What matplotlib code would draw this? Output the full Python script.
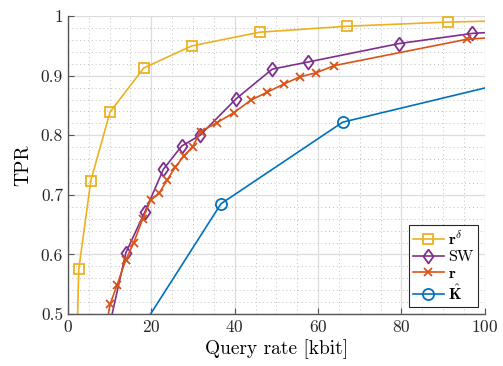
import matplotlib.pyplot as plt
from matplotlib.ticker import MultipleLocator

plt.rcParams['font.family'] = 'cmr10'
plt.rcParams['mathtext.fontset'] = 'cm'
plt.rcParams['axes.formatter.use_mathtext'] = True

# Data (points outside the axes keep the line ends right)
rd_x = [1.8, 2.6, 5.5, 10.1, 18.2, 29.7, 46.0, 66.9, 91.1, 110.0]
rd_y = [0.35, 0.575, 0.724, 0.839, 0.913, 0.950, 0.973, 0.983, 0.990, 0.993]

sw_x = [9.0, 13.9, 18.5, 22.9, 27.3, 31.7, 40.3, 49.0, 57.6, 79.5, 97.0, 110.0]
sw_y = [0.45, 0.603, 0.672, 0.743, 0.782, 0.800, 0.861, 0.911, 0.923, 0.954, 0.971, 0.976]

r_x = [9.0, 10.1, 11.8, 13.9, 15.8, 17.9, 19.9, 21.9, 23.8, 25.8, 27.8, 29.9, 31.8,
       35.7, 39.8, 43.9, 47.7, 51.8, 55.6, 59.6, 63.9, 95.6, 110.0]
r_y = [0.47, 0.516, 0.549, 0.591, 0.620, 0.659, 0.692, 0.703, 0.725, 0.747, 0.765, 0.781, 0.806,
       0.821, 0.838, 0.859, 0.872, 0.886, 0.898, 0.905, 0.917, 0.961, 0.968]

k_x = [18.0, 36.7, 65.9, 120.0]
k_y = [0.48, 0.685, 0.822, 0.913]

# matlab style diamond, a bit taller than wide
diamond = [(0, 1), (0.72, 0), (0, -1), (-0.72, 0), (0, 1)]

fig = plt.figure(figsize=(5.03, 3.66), dpi=100)
ax = fig.add_axes([0.135, 0.142, 0.829, 0.814])

ax.plot(rd_x, rd_y, color='#EDB120', marker='s', mfc='none', ms=7, mew=1.3, lw=1.2,
        label=r'$\mathbf{r}^{\delta}$')
ax.plot(sw_x, sw_y, color='#7E2F8E', marker=diamond, mfc='none', ms=10, mew=1.3, lw=1.2,
        label='SW')
ax.plot(r_x, r_y, color='#D95319', marker='x', ms=6, mew=1.3, lw=1.2,
        label=r'$\mathbf{r}$')
ax.plot(k_x, k_y, color='#0072BD', marker='o', mfc='none', ms=8, mew=1.3, lw=1.2,
        label=r'$\hat{\mathbf{K}}$')

ax.set_xlim(0, 100)
ax.set_ylim(0.5, 1.0)
ax.xaxis.set_major_locator(MultipleLocator(20))
ax.xaxis.set_minor_locator(MultipleLocator(5))
ax.yaxis.set_minor_locator(MultipleLocator(0.02))
ax.set_yticks([0.5, 0.6, 0.7, 0.8, 0.9, 1.0])
ax.set_yticklabels(['0.5', '0.6', '0.7', '0.8', '0.9', '1'])

ax.grid(which='major', color='#dcdcdc', lw=0.9)
ax.grid(which='minor', color='#c0c0c0', lw=0.7, ls=(0, (1, 3)))
ax.set_axisbelow(True)

for side in ['top', 'right']:
    ax.spines[side].set_visible(False)
for side in ['left', 'bottom']:
    ax.spines[side].set_color('#555555')
    ax.spines[side].set_linewidth(1.0)
ax.tick_params(which='both', direction='in', labelsize=12.5, colors='#262626')
ax.tick_params(which='major', length=4, color='#555555')
ax.tick_params(which='minor', length=0)

ax.set_xlabel('Query rate [kbit]', fontsize=14, labelpad=3)
ax.set_ylabel('TPR', fontsize=14, labelpad=6)

leg = ax.legend(loc='lower right', fontsize=11.5, fancybox=False, framealpha=1,
                edgecolor='#262626', handlelength=1.9, borderpad=0.25,
                labelspacing=0.15, handletextpad=0.3, borderaxespad=0.45)
leg.get_frame().set_linewidth(0.8)

fig.savefig('out.png', dpi=100)
